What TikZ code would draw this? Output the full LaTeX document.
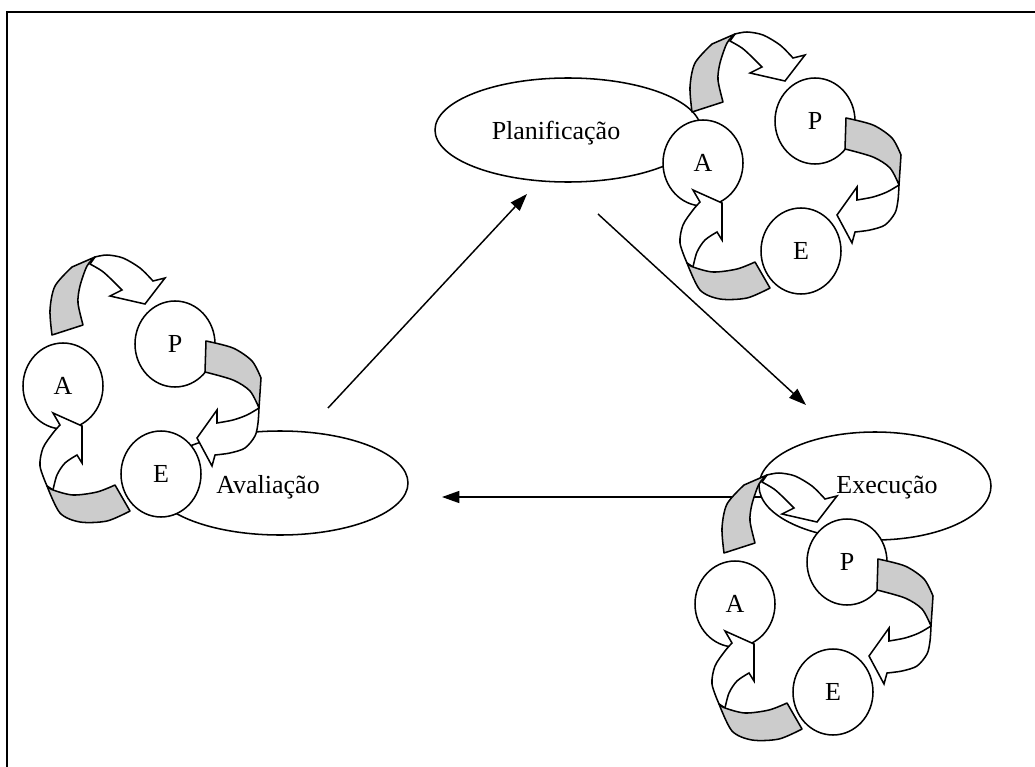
\documentclass[tikz,border=0pt]{standalone}
\usepackage{fontspec}
\setmainfont{Liberation Serif}
\usetikzlibrary{shapes.geometric,arrows.meta}
\definecolor{ribgrey}{RGB}{204,204,204}
\tikzset{
 circlab/.style={ellipse,draw,fill=white,line width=1.15pt,minimum width=60pt,minimum height=64.5pt,inner sep=0pt,font=\fontsize{19.5}{23}\selectfont},
 bigell/.style={ellipse,draw,fill=white,line width=1.15pt,inner sep=0pt},
 lab/.style={font=\fontsize{19.5}{23}\selectfont,inner sep=0pt},
 rib/.style={fill=ribgrey,draw,line width=1.15pt,line join=round},
 ribw/.style={fill=white,draw,line width=1.15pt,line join=miter},
 conn/.style={line width=1.1pt,-{Triangle[length=13pt,width=9pt]}},
 frame/.style={line width=1.5pt},
}
\newcommand\pdcacycle[2]{%
\begin{scope}[shift={#2}]
 \node[circlab] (#1A) at (0,0) {A};
 \node[circlab] (#1P) at (112,-42) {P};
 \node[circlab] (#1E) at (98,88) {E};
 % arrow A -> P
 \draw[ribw] plot[smooth] coordinates {(32,-129) (44,-131) (60,-128) (77,-118) (90,-105)}
   -- (102,-108) -- (82,-82) -- (47,-90) -- (59,-96)
   -- plot[smooth] coordinates {(59,-96) (49,-106) (39,-115) (27,-122)} -- cycle;
 \draw[rib] plot[smooth] coordinates {(-11,-51) (-13,-76) (-8,-100) (9,-119)}
   -- plot[smooth] coordinates {(32,-129) (24,-120) (17,-100) (15,-83) (20,-61)} -- cycle;
 % arrow P -> E
 \draw[ribw] plot[smooth] coordinates {(196,22) (195,37) (192,50) (182,62) (167,67) (152,69)}
   -- (149,80) -- (134,52) -- (154,24) -- (154,37)
   -- plot[smooth] coordinates {(154,37) (170,34) (184,29) (196,22)} -- cycle;
 \draw[rib] plot[smooth] coordinates {(143,-45) (170,-38) (189,-25) (198,-8)}
   -- plot[smooth] coordinates {(196,22) (187,5) (170,-6) (142,-14)} -- cycle;
 % arrow E -> A
 \draw[ribw] plot[smooth] coordinates {(-16,100) (-23,80) (-20,62) (-10,47) (-3,39)}
   -- (-10,27) -- (19,40) -- (19,77) -- (14,69)
   -- plot[smooth] coordinates {(14,69) (2,77) (-6,89) (-10,104)} -- cycle;
 \draw[rib] plot[smooth] coordinates {(-16,100) (-10,104) (10,109) (34,106) (52,99)}
   -- (67,125)
   -- plot[smooth] coordinates {(67,125) (44,135) (17,136) (-3,127) (-16,100)} -- cycle;
\end{scope}}
\begin{document}
\begin{tikzpicture}[x=0.75pt,y=-0.75pt]
\useasboundingbox (0,0) rectangle (1035,767);
% frame
\coordinate (fa) at (7,770);
\coordinate (fb) at (7,12);
\coordinate (fc) at (1040,12);
\draw[frame] (fa) -- (fb) -- (fc);
% phase ellipses
\node[bigell,minimum width=199.5pt,minimum height=78pt] (plan) at (568,130) {};
\node[bigell,minimum width=192pt,minimum height=78pt] (aval) at (280,483) {};
\node[bigell,minimum width=174pt,minimum height=81pt] (exec) at (875,486) {};
\node[lab] (plantxt) at (556,133) {Planificação};
\node[lab] (avaltxt) at (268,487) {Avaliação};
\node[lab] (exectxt) at (887,488) {Execução};
% connectors
\coordinate (c1s) at (328,408); \coordinate (c1e) at (527,194);
\coordinate (c2s) at (598,214); \coordinate (c2e) at (806,405);
\coordinate (c3s) at (762,497); \coordinate (c3e) at (442,497);
\draw[conn] (c1s) -- (c1e);
\draw[conn] (c2s) -- (c2e);
\draw[conn] (c3s) -- (c3e);
% PDCA cycles
\pdcacycle{t}{(703,163)}
\pdcacycle{l}{(63,386)}
\pdcacycle{r}{(735,604)}
\end{tikzpicture}
\end{document}
